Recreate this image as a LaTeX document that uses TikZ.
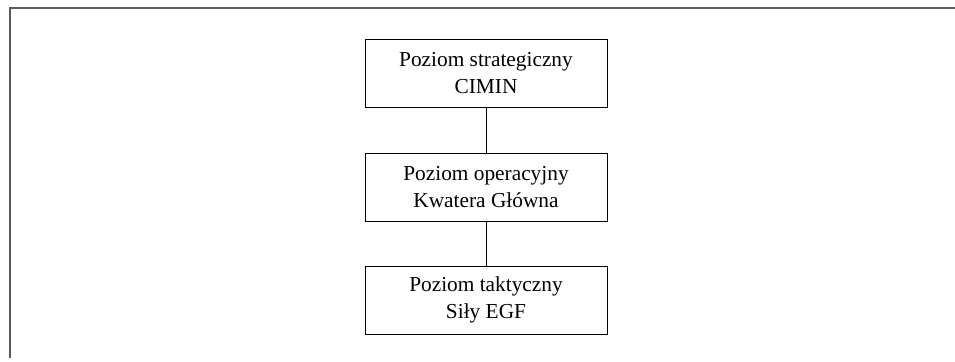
\documentclass[tikz,border=0pt]{standalone}
\usepackage{fontspec}
\setmainfont{Liberation Serif}
\usetikzlibrary{positioning}

\tikzset{poziom/.style={draw,semithick,rectangle,minimum width=181.5pt,minimum height=51pt,align=center,font=\fontsize{16}{20}\selectfont}}

\begin{document}
\begin{tikzpicture}[x=0.75pt,y=-0.75pt]
	\useasboundingbox (0,0) rectangle (955,361);
	\draw[black!65,line width=1pt] (955,8) -- (10,8) -- (10,358);

	\node (strat) at (486,73) [poziom] {Poziom strategiczny\\CIMIN};
	\node (oper) at (486,187) [poziom] {Poziom operacyjny\\Kwatera Główna};
	\node (takt) at (486,300) [poziom] {Poziom taktyczny\\Siły EGF};

	\draw (strat) -- (oper);
	\draw (oper) -- (takt);
\end{tikzpicture}
\end{document}
